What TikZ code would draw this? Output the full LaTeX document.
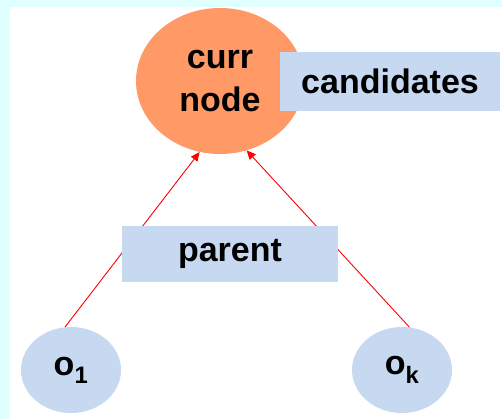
\documentclass[tikz,border=0pt]{standalone}
\usepackage{fontspec}
\setmainfont{Liberation Sans}
\usetikzlibrary{shapes.geometric}

\definecolor{paleCyan}{HTML}{E0FFFF}
\definecolor{currOrange}{HTML}{FF9966}
\definecolor{boxBlue}{HTML}{C6D9F1}

\tikzset{
    lbl/.style={font=\fontsize{34}{43}\selectfont\bfseries, text=black},
    currnode/.style={ellipse, fill=currOrange, minimum width=168pt, minimum height=146pt, inner sep=0pt, align=center, lbl},
    childnode/.style={ellipse, fill=boxBlue, minimum width=100pt, minimum height=86pt, inner sep=0pt, lbl},
    tagbox/.style={rectangle, fill=boxBlue, inner sep=0pt, lbl},
    link/.style={draw=red, line width=0.9pt, -{Triangle[length=9pt,width=8pt]}}
}
\usetikzlibrary{arrows.meta}

\begin{document}
\begin{tikzpicture}[x=1pt,y=-1pt]
    \fill[paleCyan] (0,0) rectangle (502,419);
    \fill[white] (10,7) rectangle (502,419);
    \useasboundingbox (0,0) rectangle (502,419);

    \node[currnode] (curr) at (220,81) {curr\\node};
    \node[childnode] (o1) at (71,370) {o\textsubscript{1}};
    \node[childnode] (ok) at (402,370) {o\textsubscript{k}};

    \draw[link] (o1.98) -- (curr.254);
    \draw[link] (ok.80) -- (curr.291);

    \node[tagbox, minimum width=220pt, minimum height=59pt] (cand) at (390,81.5) {candidates};
    \node[tagbox, minimum width=216pt, minimum height=56pt] (par) at (230,254) {parent};
\end{tikzpicture}
\end{document}
